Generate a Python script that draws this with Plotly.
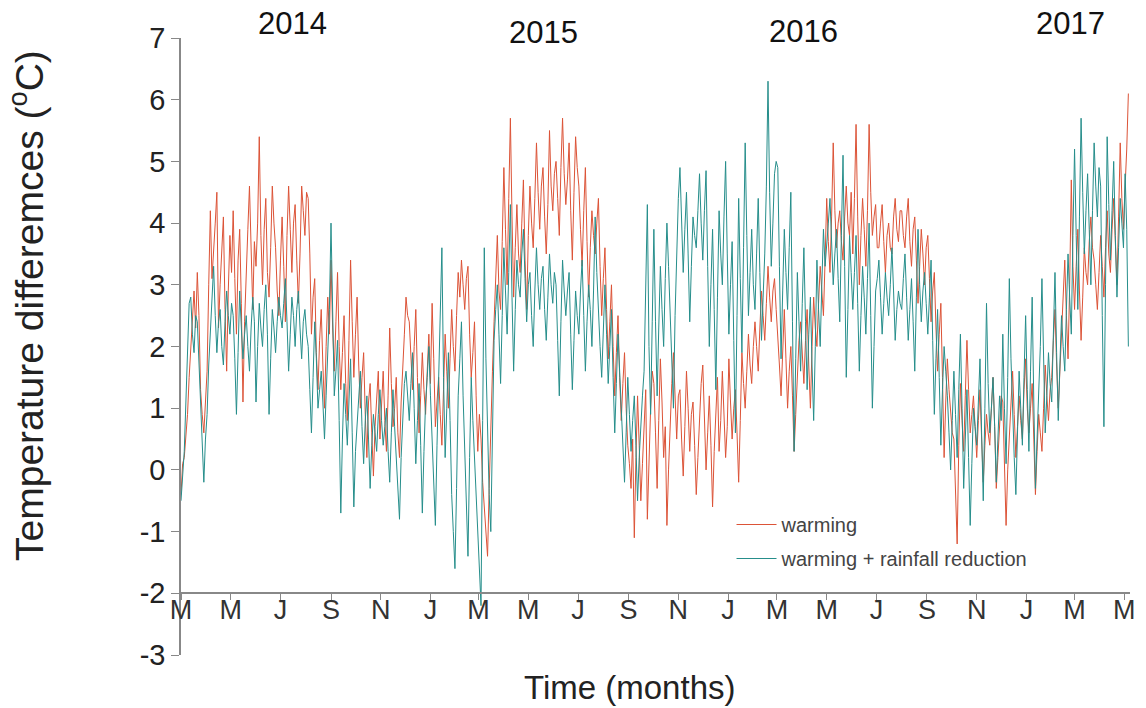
import pandas as pd
import plotly.graph_objects as go

# Values, one value every 2 days starting 1 March 2014
warming = (
    [-0.4, 0.1, 0.2, 0.6, 0.9, 1.5, 2.0, 2.6, 2.9, 2.3, 3.2, 2.5, 1.3, 0.9, 0.6, 1.1] +      # Mar 2014
    [1.6, 3.0, 4.2, 3.1, 3.5, 4.0, 4.5, 2.3, 3.0, 3.7, 4.1, 2.6, 1.6, 2.9, 3.8, 3.2] +       # Apr
    [4.2, 3.1, 2.2, 3.4, 3.9, 2.7, 1.1, 2.4, 3.3, 3.9, 4.6, 3.5, 2.6, 3.7] +                 # May
    [3.3, 4.0, 5.4, 3.8, 3.0, 3.9, 4.4, 3.2, 2.8, 3.6, 4.6, 4.0, 3.6, 2.9, 2.5, 3.4] +       # Jun
    [4.1, 3.3, 2.4, 3.8, 4.6, 3.9, 3.2, 4.0, 4.3, 3.4, 2.7, 3.5, 4.6, 4.2, 3.8, 4.5] +       # Jul
    [4.4, 3.5, 2.2, 2.8, 3.1, 1.9, 1.3, 2.1, 2.6, 1.7, 1.0, 2.0, 2.8, 2.2] +                 # Aug
    [3.4, 2.3, 1.6, 2.4, 3.2, 2.0, 1.3, 1.9, 2.5, 1.4, 0.8, 2.1, 3.4, 2.4, 1.5, 2.2] +       # Sep
    [2.8, 1.7, 1.0, 1.5, 1.9, 0.9, 0.2, 1.1, 1.4, 0.6, -0.1, 0.7, 1.2, 1.6, 0.5, 1.0] +     # Oct
    [1.6, 0.8, 0.3, 1.2, 2.3, 1.4, 0.7, 1.0, 1.5, 0.6, 0.2, 1.1, 1.8, 2.2] +                 # Nov
    [2.8, 2.5, 2.4, 1.7, 1.3, 2.0, 2.6, 1.5, 0.6, 1.2, 1.9, 1.3, 0.9, 1.6, 2.2, 1.4] +       # Dec
    [2.7, 1.8, 0.7, 1.1, 1.5, 0.9, 0.4, 1.3, 2.2, 1.6, 1.0, 1.8, 2.6, 2.0, 1.6, 2.5] +       # Jan 2015
    [3.2, 2.8, 3.4, 3.0, 2.6, 3.1, 3.3, 2.2, 1.5, 1.9, 2.4, 1.2, 0.3, 0.9] +                 # Feb
    [0.5, -0.2, -0.6, -1.0, -1.4, -0.3, 0.8, 1.6, 2.4, 3.1, 3.8, 2.9, 2.6, 3.7] +            # Mar
    [4.9, 3.9, 3.0, 4.4, 5.7, 4.1, 2.8, 3.6, 4.3, 3.5, 3.2, 4.0, 4.7, 3.4, 2.6, 3.8] +       # Apr
    [4.6, 4.0, 3.6, 4.4, 5.3, 4.5, 3.9, 4.6, 4.9, 4.1, 3.5, 4.3, 5.5, 4.6, 4.2, 4.8] +       # May
    [5.0, 4.4, 3.8, 4.9, 5.7, 4.8, 4.3, 4.7, 5.3, 4.2, 3.4, 4.5, 5.4, 4.9] +                 # Jun
    [4.6, 3.9, 3.3, 4.2, 4.9, 3.7, 2.8, 3.6, 4.2, 3.8, 3.5, 4.0, 4.4, 3.3, 2.5, 3.1] +       # Jul
    [3.6, 2.6, 1.8, 2.4, 3.0, 2.0, 1.2, 1.9, 2.5, 1.5, 0.8, 1.4, 1.9, 1.0, 0.4, 0.1] +       # Aug
    [-0.3, 0.5, -1.1, 0.2, 1.2, 0.4, -0.5, 0.1, 0.6, 1.3, -0.8, 0.2, 1.0, 1.6] +             # Sep
    [1.4, 0.6, -0.3, 0.8, 1.8, 1.1, 0.2, 0.7, -0.9, 0.0, 0.9, 1.4, 1.9, 1.0, 0.5, 1.2] +     # Oct
    [1.3, 0.5, -0.1, 0.7, 1.6, 1.0, 0.3, 0.9, 1.1, 0.4, -0.4, 0.2, 0.8, 1.4] +               # Nov
    [1.7, 0.9, 0.0, 0.6, 1.2, 0.4, -0.6, 0.3, 0.9, 1.5, 0.3, 0.8, 1.6, 1.0, 0.2, 0.7] +      # Dec
    [1.8, 1.1, 0.5, 1.0, 1.3, 0.6, -0.2, 0.8, 1.9, 1.4, 1.0, 1.6, 2.2, 1.7, 1.4, 2.0] +      # Jan 2016
    [2.4, 2.0, 1.6, 2.3, 2.9, 2.5, 2.1, 2.7, 3.3, 2.8, 2.4, 2.9, 3.1, 2.6] +                 # Feb
    [2.2, 1.7, 1.2, 2.0, 2.6, 1.8, 1.0, 1.6, 2.0, 1.2, 0.3, 0.9, 1.5, 2.1, 2.4, 1.8] +       # Mar
    [1.4, 2.1, 2.6, 1.7, 1.0, 2.0, 2.8, 2.3, 2.0, 2.7, 3.3, 2.9, 2.5, 3.4] +                 # Apr
    [4.4, 3.7, 3.2, 4.1, 5.3, 4.2, 3.6, 4.0, 4.2, 3.7, 3.4, 4.1, 4.6, 4.0, 3.8, 4.5] +       # May
    [3.5, 4.4, 5.6, 4.1, 3.0, 3.8, 4.4, 3.9, 3.3, 4.2, 5.6, 4.5, 3.8, 4.1, 4.3, 3.6] +       # Jun
    [3.6, 4.0, 4.3, 3.7, 3.2, 3.8, 4.0, 3.6, 3.5, 4.1, 4.4, 3.9, 3.7, 4.2] +                 # Jul
    [4.2, 3.8, 3.6, 4.1, 4.4, 3.7, 3.3, 3.9, 4.1, 3.4, 2.7, 3.3, 3.9, 3.5, 3.0, 3.6] +       # Aug
    [3.8, 3.1, 2.4, 2.9, 3.2, 2.3, 1.6, 2.2, 2.7, 1.5, 0.2, 1.1, 1.8, 1.3, 1.0, 0.6] +       # Sep
    [0.5, -0.3, -1.2, 0.4, 1.4, 0.8, 0.3, 1.2, 2.1, 1.3, 0.6, 0.9, 1.2, 0.7] +               # Oct
    [0.2, 0.8, 1.3, 0.5, -0.2, 0.4, 0.9, 0.6, 0.4, 1.0, 1.5, 0.7, -0.3, 0.2, 0.8, 1.2] +     # Nov
    [1.1, 0.2, -0.9, 0.0, 0.6, 1.1, 1.6, 0.9, 0.2, 0.7, 1.2, 0.8, 0.5, 1.3, 1.8, 1.0] +      # Dec
    [0.6, 1.0, 1.4, 0.5, -0.4, 0.3, 0.9, 0.6, 0.3, 1.0, 1.7, 1.2, 0.8, 1.3] +                # Jan 2017
    [1.5, 2.1, 2.6, 1.7, 1.0, 1.6, 2.3, 2.9, 3.4, 2.5, 1.8, 3.0, 4.7, 3.3] +                 # Feb
    [2.6, 3.3, 3.9, 2.9, 2.1, 2.8, 3.6, 3.2, 3.0, 3.7, 4.1, 3.6, 3.4, 3.0, 2.6, 3.2] +       # Mar
    [3.8, 3.3, 2.8, 3.6, 4.2, 3.5, 3.2, 3.9, 4.4, 3.7, 3.0, 4.1, 5.3, 4.4, 3.9, 4.6] +       # Apr
    [5.2, 6.1]                                                                              # May
)

warming_rain = (
    [-0.5, -0.1, 0.3, 1.1, 2.0, 2.7, 2.8, 2.2, 1.9, 2.5, 2.4, 1.8, 1.2, 0.4, -0.2, 0.5] +    # Mar 2014
    [0.9, 1.7, 2.3, 2.8, 3.3, 2.5, 1.9, 2.4, 2.6, 2.0, 1.7, 2.4, 2.9, 2.5, 2.2, 2.7] +       # Apr
    [2.5, 1.8, 0.9, 1.9, 2.9, 2.3, 1.8, 2.2, 2.5, 2.0, 1.6, 2.3, 2.8, 2.4] +                 # May
    [1.1, 2.0, 2.7, 2.3, 2.0, 2.6, 3.0, 2.2, 0.9, 1.8, 2.6, 2.3, 1.9, 2.4, 2.8, 2.5] +       # Jun
    [2.3, 2.7, 3.1, 2.4, 1.6, 2.2, 2.8, 2.5, 2.0, 2.6, 2.9, 2.3, 1.8, 2.4, 2.6, 2.2] +       # Jul
    [2.0, 1.3, 0.6, 1.5, 2.4, 1.8, 1.0, 1.3, 1.6, 1.1, 0.5, 1.2, 1.9, 2.6] +                 # Aug
    [4.0, 2.2, 1.2, 1.6, 2.1, 0.8, -0.7, 0.5, 1.4, 0.9, 0.4, 1.1, 1.8, 0.6, -0.6, 0.3] +     # Sep
    [0.8, 1.3, 1.6, 0.7, 0.1, 0.8, 1.2, 0.5, -0.3, 0.4, 0.9, 0.6, 0.3, 0.9, 1.3, 0.8] +      # Oct
    [0.4, 0.7, 1.0, 0.3, -0.2, 0.6, 1.3, 0.7, 0.2, -0.3, -0.8, 0.2, 0.9, 1.4] +              # Nov
    [1.6, 1.2, 0.8, 1.4, 1.9, 1.0, 0.1, 0.8, 1.4, 0.4, -0.7, 0.3, 1.1, 1.5, 2.0, 1.2] +      # Dec
    [0.5, -0.2, -0.9, 0.4, 1.6, 2.4, 3.6, 1.5, 0.2, 1.0, 1.9, 0.8, -0.4, -1.0, -1.6, -0.3] + # Jan 2015
    [1.2, 1.8, 2.4, 1.2, 0.3, -0.6, -1.4, 0.2, 1.5, 0.8, 0.2, -0.5, -1.0, -1.6] +            # Feb
    [-2.2, 0.8, 3.6, 1.8, 0.5, -0.4, -1.0, 0.6, 2.1, 2.6, 3.0, 2.2, 1.4, 2.5] +              # Mar
    [3.6, 2.9, 2.2, 3.2, 4.3, 2.8, 1.6, 2.6, 3.4, 3.0, 2.8, 3.5, 3.9, 3.1, 2.4, 3.0] +       # Apr
    [3.2, 2.5, 2.0, 2.9, 3.6, 3.0, 2.6, 3.1, 3.3, 2.6, 2.1, 2.8, 3.5, 3.0, 2.7, 3.2] +       # May
    [3.0, 2.1, 1.2, 2.4, 3.4, 2.9, 2.5, 2.9, 3.2, 2.2, 1.3, 2.1, 2.9, 2.5] +                 # Jun
    [2.2, 2.9, 3.4, 2.5, 1.6, 2.4, 3.0, 2.6, 2.0, 2.9, 4.1, 3.2, 2.5, 2.0, 1.5, 2.3] +       # Jul
    [3.0, 2.2, 1.4, 2.0, 2.6, 1.5, 0.6, 1.4, 2.2, 1.6, 1.0, 0.4, -0.2, 0.6, 1.5, 0.9] +      # Aug
    [0.3, 0.8, 1.2, 0.4, -0.5, 0.2, 0.8, 1.2, 1.6, 2.8, 4.3, 2.0, 0.9, 2.4] +                # Sep
    [3.9, 2.4, 1.2, 2.3, 3.3, 2.6, 2.0, 3.1, 4.0, 3.3, 2.6, 1.8, 1.0, 2.5, 3.7, 4.4] +       # Oct
    [4.9, 4.0, 3.2, 3.9, 4.5, 3.5, 2.4, 3.3, 4.1, 3.8, 3.6, 4.2, 4.8, 4.0] +                 # Nov
    [3.4, 4.2, 4.85, 3.3, 2.0, 3.0, 3.9, 2.6, 1.3, 2.8, 4.2, 3.5, 3.0, 4.1, 5.0, 3.5] +      # Dec
    [2.2, 3.0, 3.7, 2.1, 0.6, 2.5, 4.4, 3.1, 1.9, 3.6, 5.3, 3.8, 2.5, 3.2, 3.9, 3.0] +       # Jan 2016
    [2.6, 3.5, 4.4, 3.2, 2.1, 2.8, 3.5, 4.6, 6.3, 4.5, 3.3, 4.0, 4.8, 5.0] +                 # Feb
    [4.9, 3.3, 1.8, 2.9, 3.9, 3.2, 2.6, 3.6, 4.5, 2.4, 0.3, 1.8, 3.2, 2.4, 1.6, 2.7] +       # Mar
    [3.6, 2.4, 1.3, 2.2, 2.8, 1.7, 0.8, 2.0, 3.4, 2.6, 2.0, 3.0, 3.9, 3.3] +                 # Apr
    [3.6, 4.0, 4.4, 3.6, 3.0, 3.5, 3.9, 3.1, 2.4, 3.8, 5.1, 3.3, 1.5, 2.6, 3.8, 3.2] +       # May
    [2.6, 3.2, 3.8, 2.7, 1.6, 2.5, 3.3, 2.8, 2.2, 3.1, 4.0, 2.5, 1.0, 2.0, 2.9, 3.1] +       # Jun
    [3.4, 2.8, 2.2, 2.7, 3.2, 2.8, 2.5, 3.0, 3.6, 2.9, 2.1, 2.6, 2.9, 2.7] +                 # Jul
    [2.6, 3.1, 3.5, 2.8, 2.1, 2.6, 3.1, 2.4, 1.6, 2.8, 3.9, 3.0, 2.4, 2.9, 3.2, 2.7] +       # Aug
    [2.2, 2.8, 3.4, 2.1, 0.9, 1.8, 2.6, 1.5, 0.4, 1.3, 2.0, 1.6, 1.2, 0.6, 0.0, 0.8] +       # Sep
    [1.6, 0.9, 0.2, 1.3, 2.2, 1.0, -0.3, 0.5, 1.3, 0.2, -0.9, 0.1, 1.0, 0.7] +               # Oct
    [0.4, 1.1, 1.8, 0.6, -0.5, 1.0, 2.7, 1.4, 0.6, 1.0, 1.5, 0.7, -0.2, 0.5, 1.2, 0.8] +     # Nov
    [2.2, 1.0, 0.1, 1.5, 3.1, 1.8, 0.8, 0.2, -0.4, 0.6, 1.6, 1.0, 0.4, 1.5, 2.5, 1.3] +      # Dec
    [0.3, 1.6, 2.8, 1.1, -0.3, 0.5, 1.2, 2.0, 3.1, 1.8, 0.6, 1.2, 1.9, 1.4] +                # Jan 2017
    [1.1, 2.2, 3.2, 1.9, 0.8, 1.7, 2.5, 2.0, 1.6, 2.6, 3.5, 2.8, 2.2, 3.8] +                 # Feb
    [5.2, 3.8, 2.6, 4.1, 5.7, 4.5, 3.5, 4.2, 4.8, 3.9, 3.0, 4.2, 5.3, 4.6, 4.1, 4.9] +       # Mar
    [4.6, 2.5, 0.7, 3.0, 5.4, 4.3, 3.4, 4.2, 5.0, 3.8, 2.8, 3.6, 4.4, 4.0, 3.6, 4.8] +       # Apr
    [3.9, 2.0]                                                                              # May
)

tick_dates = pd.date_range("2014-03-01", "2017-05-01", freq="2MS")
tick_labels = ["M", "M", "J", "S", "N", "J"] * 3 + ["M", "M"]
y_ticks = [-3, -2, -1, 0, 1, 2, 3, 4, 5, 6, 7]
y_tick_labels = ["-3", "-2", "-1", "0", "1", "2", "3", "4", "5", "6", "7"]
year_labels = ["2014", "2015", "2016", "2017"]

dates_w = pd.date_range("2014-03-01", periods=len(warming), freq="2D")
dates_wr = pd.date_range("2014-03-01", periods=len(warming_rain), freq="2D")

RED = "#dc5337"
TEAL = "#268e8b"
FONT = "Liberation Sans, Arial, sans-serif"

fig = go.Figure()
fig.add_trace(go.Scatter(x=dates_w, y=warming, mode="lines", name="warming",
                         line=dict(color=RED, width=1.0), legendgroup="a"))
fig.add_trace(go.Scatter(x=dates_wr, y=warming_rain, mode="lines",
                         name="warming + rainfall reduction",
                         line=dict(color=TEAL, width=1.0), legendgroup="b"))

W, H = 1146, 708
L, R, T, B = 181, 10, 38, 53
pw = W - L - R
ph = H - T - B

fig.update_layout(
    width=W, height=H,
    margin=dict(l=L, r=R, t=T, b=B, pad=0),
    paper_bgcolor="white", plot_bgcolor="white",
    font=dict(family=FONT, color="#222222"),
    showlegend=True,
    legend=dict(x=(735 - L) / pw, y=(H - B - 505) / ph, xanchor="left", yanchor="top",
                bgcolor="rgba(0,0,0,0)", font=dict(size=20, color="#444444"),
                tracegroupgap=5, itemwidth=40),
    xaxis=dict(
        type="date",
        range=["2014-03-01", "2017-05-08"],
        tickmode="array", tickvals=tick_dates, ticktext=tick_labels,
        ticks="outside", ticklen=6, tickcolor="#888888", tickwidth=1.3,
        showline=True, linecolor="#888888", linewidth=1.5,
        showgrid=False, zeroline=False,
        anchor="free", position=0.1,
        ticklabelstandoff=-13,
        tickfont=dict(size=27, color="#333333", family=FONT),
    ),
    yaxis=dict(
        range=[-3, 7],
        tickmode="array", tickvals=y_ticks, ticktext=y_tick_labels,
        ticks="outside", ticklen=8, tickcolor="#888888", tickwidth=1.3,
        showline=True, linecolor="#888888", linewidth=1.5,
        showgrid=False, zeroline=False,
        tickfont=dict(size=29, color="#222222", family=FONT),
    ),
)

# year labels
year_pos = [(293, 24), (546, 33), (807, 31), (1076, 24)]
for lab, (px, py) in zip(year_labels, year_pos):
    fig.add_annotation(text=lab, xref="paper", yref="paper",
                       x=(px - L) / pw, y=(H - B - py) / ph,
                       xanchor="center", yanchor="middle",
                       showarrow=False, font=dict(size=31, color="#111111", family=FONT))

# axis titles
fig.add_annotation(text="Time (months)", xref="paper", yref="paper",
                   x=(632 - L) / pw, y=(H - B - 687) / ph,
                   xanchor="center", yanchor="middle",
                   showarrow=False, font=dict(size=33, color="#222222", family=FONT))
fig.add_annotation(text="Temperature differemces (<sup>o</sup>C)", xref="paper", yref="paper",
                   x=(25 - L) / pw, y=(H - B - 305) / ph, textangle=-90,
                   xanchor="center", yanchor="middle",
                   showarrow=False, font=dict(size=39, color="#222222", family=FONT))

fig.write_html("out.html")
